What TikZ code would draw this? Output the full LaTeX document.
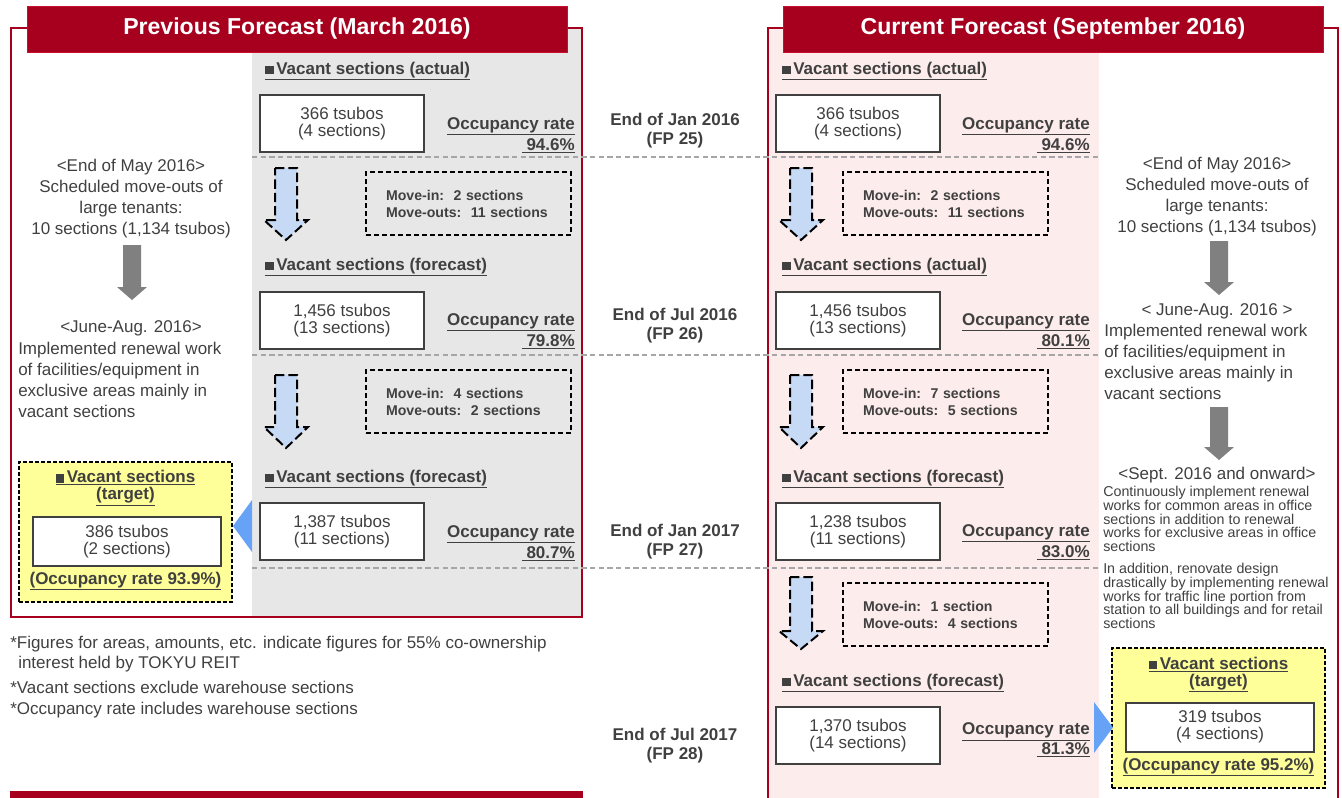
\documentclass[tikz,border=0pt]{standalone}
\usepackage{fontspec}
\setmainfont{Liberation Sans}
\usepackage{tikz}

\definecolor{reitred}{HTML}{A6001E}
\definecolor{titleedge}{HTML}{C8102E}
\definecolor{greypanel}{HTML}{E7E7E7}
\definecolor{pinkpanel}{HTML}{FDECEC}
\definecolor{targetyellow}{HTML}{FFFF99}
\definecolor{lightblue}{HTML}{C6DAF6}
\definecolor{wedgeblue}{HTML}{66A3F7}
\definecolor{darktext}{HTML}{404040}
\definecolor{sepgrey}{HTML}{A6A6A6}
\definecolor{arrowgrey}{HTML}{808080}

\newcommand{\fsize}[2]{\fontsize{#1}{#2}\selectfont}
\newcommand{\sq}{\rule{6.3pt}{6.3pt}\hspace{2pt}}

\tikzset{
    titlebar/.style={fill=reitred, draw=titleedge, line width=0.75pt, text=white,
        font=\bfseries\fsize{17.3}{20}, minimum width=405pt, minimum height=34.5pt, inner sep=0},
    panel/.style={draw=reitred, line width=1.5pt},
    sep/.style={draw=sepgrey, line width=1.2pt, dash pattern=on 4pt off 2.5pt},
    sect/.style={anchor=base west, inner sep=0, font=\bfseries\fsize{12.75}{15}},
    tsubo/.style={draw=darktext, line width=1.5pt, fill=white, minimum width=123pt,
        minimum height=42.75pt, align=center, inner sep=0, font=\fsize{12.75}{12.75}},
    occ/.style={anchor=east, align=right, inner sep=0, font=\bfseries\fsize{12.75}{15.75}},
    moves/.style={draw=black, line width=1.2pt, dash pattern=on 3.75pt off 2.25pt,
        minimum height=47.25pt, text width=123.75pt, inner xsep=15pt, align=left,
        font=\bfseries\fsize{10.6}{12.75}},
    movearrow/.style={fill=lightblue, draw=black, line width=1.5pt, dash pattern=on 7pt off 3pt},
    greyarrow/.style={fill=arrowgrey},
    period/.style={align=center, inner sep=0, font=\bfseries\fsize{12.75}{14.25}},
    memo/.style={align=center, inner sep=0, font=\fsize{12.75}{15.75}},
    memoleft/.style={align=left, anchor=west, inner sep=0, font=\fsize{12.75}{15.75}},
    smallmemo/.style={align=left, anchor=west, inner sep=0, font=\fsize{10.7}{10.3}},
    target/.style={fill=targetyellow, draw=black, line width=1.5pt, dash pattern=on 3pt off 1.5pt,
        minimum width=159.75pt, minimum height=105pt},
    tgthead/.style={align=center, inner sep=0, font=\bfseries\fsize{12.75}{12.75}},
    tgtbox/.style={tsubo, minimum width=141pt, minimum height=36.75pt},
    note/.style={anchor=west, align=left, inner sep=0, font=\fsize{12.75}{15}},
}

\begin{document}
\begin{tikzpicture}[x=0.75pt, y=-0.75pt, every node/.style={text=darktext}]
    \useasboundingbox (0, 0) rectangle (1342, 797);
    % panels
    \fill[greypanel] (252, 28) rectangle (582, 617);
    \fill[pinkpanel] (768, 28) rectangle (1099, 810);
    \draw[panel] (11, 28) rectangle (582, 617);
    \draw[panel] (768, 28) rectangle (1338, 810);
    \fill[reitred] (10, 791) rectangle (583, 805);
    \node[titlebar] (0) at (297, 29) {Previous Forecast (March 2016)};
    \node[titlebar] (1) at (1053, 29) {Current Forecast (September 2016)};
    % period separators
    \draw[sep] (252, 157) -- (1099, 157);
    \draw[sep] (252, 355) -- (1099, 355);
    \draw[sep] (252, 568) -- (1099, 568);
    % periods
    \node[period] (2) at (675, 130.5) {End of Jan 2016\\(FP 25)};
    \node[period] (3) at (675, 326) {End of Jul 2016\\(FP 26)};
    \node[period] (4) at (675, 541.5) {End of Jan 2017\\(FP 27)};
    \node[period] (5) at (675, 745.5) {End of Jul 2017\\(FP 28)};
    % previous forecast
    \node[sect] (10) at (265, 74) {\underline{\sq Vacant sections (actual)}};
    \node[tsubo] (11) at (342, 123.5) {366 tsubos\\(4 sections)};
    \node[occ] (12) at (575, 135) {\underline{Occupancy rate}\\\underline{\ 94.6\%}};
    \filldraw[movearrow] (275, 168) -- (297, 168) -- (297, 220) -- (308, 220) -- (286, 240) -- (264, 220) -- (275, 220) -- cycle;
    \node[moves] (13) at (468.5, 203.5) {Move-in:\ \ 2 sections\\Move-outs:\ \ 11 sections};
    \node[sect] (14) at (265, 270) {\underline{\sq Vacant sections (forecast)}};
    \node[tsubo] (15) at (342, 320.5) {1,456 tsubos\\(13 sections)};
    \node[occ] (16) at (575, 331) {\underline{Occupancy rate}\\\underline{\ 79.8\%}};
    \filldraw[movearrow] (275, 375) -- (297, 375) -- (297, 427) -- (308, 427) -- (286, 448) -- (264, 427) -- (275, 427) -- cycle;
    \node[moves] (17) at (468.5, 401.5) {Move-in:\ \ 4 sections\\Move-outs:\ \ 2 sections};
    \node[sect] (18) at (265, 482) {\underline{\sq Vacant sections (forecast)}};
    \node[tsubo] (19) at (342, 531.5) {1,387 tsubos\\(11 sections)};
    \node[occ] (20) at (575, 543) {\underline{Occupancy rate}\\\underline{\ 80.7\%}};
    % previous target
    \node[target] (21) at (125.5, 532) {};
    \node[tgthead] (22) at (125.5, 488) {\underline{\sq Vacant sections}\\\underline{(target)}};
    \node[tgtbox] (23) at (127, 541.5) {386 tsubos\\(2 sections)};
    \node[tgthead] (24) at (125.5, 581) {\underline{(Occupancy rate 93.9\%)}};
    \fill[wedgeblue] (252, 500) -- (252, 552) -- (233, 526) -- cycle;
    % previous memo
    \node[memo] (25) at (131, 198.5) {<End of May 2016>\\Scheduled move-outs of\\large tenants:\\10 sections (1,134 tsubos)};
    \fill[greyarrow] (123, 245) -- (141, 245) -- (141, 287) -- (147, 287) -- (132, 300) -- (117, 287) -- (123, 287) -- cycle;
    \node[memo] (26) at (131, 328) {<June-Aug. 2016>};
    \node[memoleft] (27) at (18, 380) {Implemented renewal work\\of facilities/equipment in\\exclusive areas mainly in\\vacant sections};
    % current forecast
    \node[sect] (30) at (782, 74) {\underline{\sq Vacant sections (actual)}};
    \node[tsubo] (31) at (858, 123.5) {366 tsubos\\(4 sections)};
    \node[occ] (32) at (1090, 135) {\underline{Occupancy rate}\\\underline{\ 94.6\%}};
    \filldraw[movearrow] (790, 168) -- (812, 168) -- (812, 220) -- (823, 220) -- (801, 240) -- (779, 220) -- (790, 220) -- cycle;
    \node[moves] (33) at (945.5, 203.5) {Move-in:\ \ 2 sections\\Move-outs:\ \ 11 sections};
    \node[sect] (34) at (782, 270) {\underline{\sq Vacant sections (actual)}};
    \node[tsubo] (35) at (858, 320.5) {1,456 tsubos\\(13 sections)};
    \node[occ] (36) at (1090, 331) {\underline{Occupancy rate}\\\underline{\ 80.1\%}};
    \filldraw[movearrow] (790, 375) -- (812, 375) -- (812, 427) -- (823, 427) -- (801, 448) -- (779, 427) -- (790, 427) -- cycle;
    \node[moves] (37) at (945.5, 401.5) {Move-in:\ \ 7 sections\\Move-outs:\ \ 5 sections};
    \node[sect] (38) at (782, 482) {\underline{\sq Vacant sections (forecast)}};
    \node[tsubo] (39) at (858, 531.5) {1,238 tsubos\\(11 sections)};
    \node[occ] (40) at (1090, 542) {\underline{Occupancy rate}\\\underline{\ 83.0\%}};
    \filldraw[movearrow] (790, 577) -- (812, 577) -- (812, 631) -- (823, 631) -- (801, 649) -- (779, 631) -- (790, 631) -- cycle;
    \node[moves] (41) at (945.5, 614.5) {Move-in:\ \ 1 section\\Move-outs:\ \ 4 sections};
    \node[sect] (42) at (782, 686) {\underline{\sq Vacant sections (forecast)}};
    \node[tsubo] (43) at (858, 735.5) {1,370 tsubos\\(14 sections)};
    \node[occ, font=\bfseries\fsize{12.75}{12}] (44) at (1090, 740) {\underline{Occupancy rate}\\\underline{\ 81.3\%}};
    % current target
    \node[target] (45) at (1218.5, 717.5) {};
    \node[tgthead] (46) at (1218.5, 674.5) {\underline{\sq Vacant sections}\\\underline{(target)}};
    \node[tgtbox] (47) at (1220, 727) {319 tsubos\\(4 sections)};
    \node[tgthead] (48) at (1218.5, 767) {\underline{(Occupancy rate 95.2\%)}};
    \fill[wedgeblue] (1094, 702) -- (1094, 753) -- (1113, 727.5) -- cycle;
    % current memo
    \node[memo] (50) at (1217, 197) {<End of May 2016>\\Scheduled move-outs of\\large tenants:\\10 sections (1,134 tsubos)};
    \fill[greyarrow] (1210, 241) -- (1228, 241) -- (1228, 282) -- (1234, 282) -- (1219, 295) -- (1204, 282) -- (1210, 282) -- cycle;
    \node[memo] (51) at (1217, 311) {< June-Aug. 2016 >};
    \node[memoleft] (52) at (1104, 362) {Implemented renewal work\\of facilities/equipment in\\exclusive areas mainly in\\vacant sections};
    \fill[greyarrow] (1210, 407) -- (1228, 407) -- (1228, 447) -- (1234, 447) -- (1219, 460) -- (1204, 447) -- (1210, 447) -- cycle;
    \node[memo] (53) at (1217, 475) {<Sept. 2016 and onward>};
    \node[smallmemo] (54) at (1103, 519) {Continuously implement renewal\\works for common areas in office\\sections in addition to renewal\\works for exclusive areas in office\\sections};
    \node[smallmemo] (55) at (1103, 596) {In addition, renovate design\\drastically by implementing renewal\\works for traffic line portion from\\station to all buildings and for retail\\sections};
    % footnotes
    \node[note] (60) at (10, 654) {*Figures for areas, amounts, etc. indicate figures for 55\% co-ownership\\\hspace{6pt}interest held by TOKYU REIT};
    \node[note] (61) at (10, 687) {*Vacant sections exclude warehouse sections};
    \node[note] (62) at (10, 710) {*Occupancy rate includes warehouse sections};
\end{tikzpicture}
\end{document}
